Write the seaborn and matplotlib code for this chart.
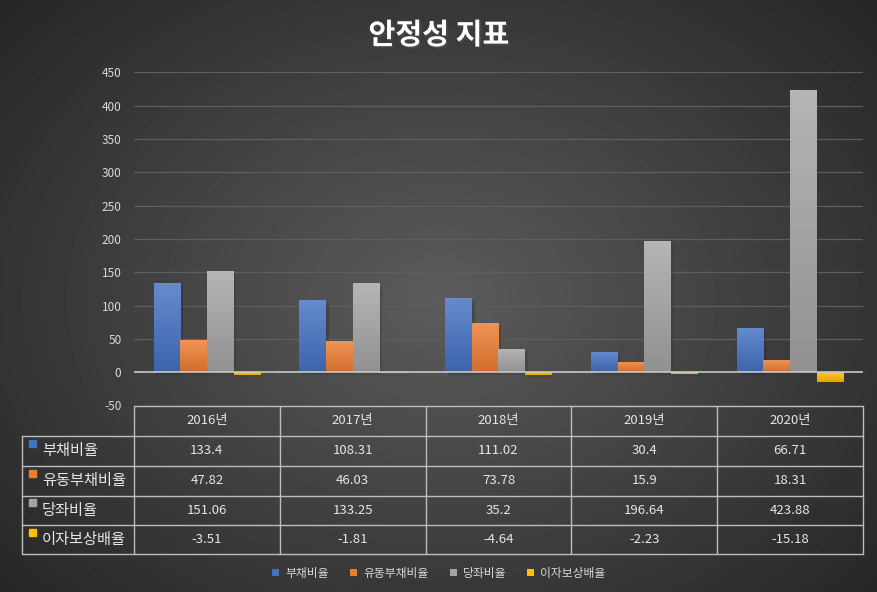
import numpy as np
import pandas as pd
import matplotlib
matplotlib.use("Agg")
import matplotlib.pyplot as plt
import matplotlib.colors as mcolors
import matplotlib.patheffects as pe
from matplotlib.patches import Patch
import seaborn as sns

# -----------------------------------
# Data
# -----------------------------------
years = ["2016년", "2017년", "2018년", "2019년", "2020년"]
series = ["부채비율", "유동부채비율", "당좌비율", "이자보상배율"]
debt_ratio = [133.4, 108.31, 111.02, 30.4, 66.71]
current_debt_ratio = [47.82, 46.03, 73.78, 15.9, 18.31]
quick_ratio = [151.06, 133.25, 35.2, 196.64, 423.88]
interest_cover = [-3.51, -1.81, -4.64, -2.23, -15.18]
y_ticks = [-50, 0, 50, 100, 150, 200, 250, 300, 350, 400, 450]

colors = ["#4472C4", "#ED7D31", "#A5A5A5", "#FFC000"]
values = [debt_ratio, current_debt_ratio, quick_ratio, interest_cover]

df = pd.DataFrame({
    "year": years * 4,
    "series": [s for s in series for _ in years],
    "value": debt_ratio + current_debt_ratio + quick_ratio + interest_cover,
})

# -----------------------------------
# Figure + background
# -----------------------------------
sns.set_style("white")
plt.rcParams["font.family"] = ["Noto Sans CJK KR", "DejaVu Sans"]

W, H = 878, 592
fig = plt.figure(figsize=(W / 100, H / 100), dpi=100)

bg = fig.add_axes([0, 0, 1, 1], zorder=-10)
yy, xx = np.mgrid[0:H, 0:W]
r = np.sqrt(((xx - 440) / 560) ** 2 + ((yy - 300) / 420) ** 2)
shade = np.clip(0.36 - 0.2 * r, 0.14, 0.36)
bg.imshow(shade, cmap="gray", vmin=0, vmax=1, extent=[0, W, H, 0], aspect="auto")
bg.set_xlim(0, W)
bg.set_ylim(H, 0)
bg.axis("off")

# -----------------------------------
# Bars
# -----------------------------------
ax = fig.add_axes([134 / W, 1 - 405.5 / H, 729 / W, 333.3 / H])
ax.patch.set_alpha(0)
sns.barplot(data=df, x="year", y="value", hue="series", hue_order=series,
            palette=colors, width=0.73, gap=0, legend=False, ax=ax,
            saturation=1, linewidth=0)

ax.set_yticks(y_ticks)
ax.set_yticklabels([str(t) for t in y_ticks], color="#d9d9d9", fontsize=8.5)
ax.tick_params(axis="y", length=0, pad=9)
ax.set_xticks([])
ax.set_xlabel("")
ax.set_ylabel("")
for s in ax.spines.values():
    s.set_visible(False)
for t in y_ticks:
    if t != 0:
        ax.axhline(t, color="#5e5e5e", lw=0.9, zorder=0)
ax.axhline(0, color="#c8c8c8", lw=1.2, zorder=4)

# gradient fill per bar (lighter top, darker bottom)
for cont, c in zip(ax.containers, colors):
    base = np.array(mcolors.to_rgb(c))
    top = np.clip(base + (1 - base) * 0.18, 0, 1)
    bot = np.clip(base * 0.88, 0, 1)
    grad = np.linspace(0, 1, 64)[:, None, None]
    img = top * (1 - grad) + bot * grad
    for bar in cont:
        x0, y0 = bar.get_x(), bar.get_y()
        w, h = bar.get_width(), bar.get_height()
        bar.set_path_effects([pe.SimplePatchShadow(offset=(2, -2), alpha=0.28),
                              pe.Normal()])
        lo, hi = min(y0, y0 + h), max(y0, y0 + h)
        im = ax.imshow(img, extent=[x0, x0 + w, lo, hi], origin="upper",
                       aspect="auto", zorder=3)
        im.set_clip_path(bar)
ax.set_xlim(-0.5, len(years) - 0.5)
ax.set_ylim(-50, 450)

# -----------------------------------
# Title
# -----------------------------------
fig.text(0.5, 1 - 35 / H, "안정성 지표", ha="center", va="center", fontsize=21,
         fontweight="bold", color="white",
         path_effects=[pe.withSimplePatchShadow(offset=(1.5, -1.5), alpha=0.6)])

# -----------------------------------
# Data table (drawn in pixel space)
# -----------------------------------
tb = fig.add_axes([0, 0, 1, 1], zorder=5)
tb.set_xlim(0, W)
tb.set_ylim(H, 0)
tb.axis("off")

fig.canvas.draw()
col_x = [ax.transData.transform((i - 0.5, 0))[0] for i in range(len(years) + 1)]
left_x = 22
row_y = [406, 435.5, 465.5, 495.5, 525, 554]
line_c = "#bdbdbd"

# horizontal lines
tb.plot([col_x[0], col_x[-1]], [row_y[0]] * 2, color=line_c, lw=1)
for yv in row_y[1:]:
    tb.plot([left_x, col_x[-1]], [yv] * 2, color=line_c, lw=1)
# vertical lines
for xv in col_x:
    tb.plot([xv, xv], [row_y[0], row_y[-1]], color=line_c, lw=1)
tb.plot([left_x, left_x], [row_y[1], row_y[-1]], color=line_c, lw=1)

txt_c = "#e6e6e6"
for i, yr in enumerate(years):
    cx = (col_x[i] + col_x[i + 1]) / 2
    tb.text(cx, (row_y[0] + row_y[1]) / 2, yr, ha="center", va="center",
            fontsize=9.5, color=txt_c)
for j, (name, vals, c) in enumerate(zip(series, values, colors)):
    cy = (row_y[j + 1] + row_y[j + 2]) / 2
    tb.add_patch(plt.Rectangle((29, cy - 11), 7, 7, color=c))
    tb.text(42, cy, name, ha="left", va="center", fontsize=11, color=txt_c)
    for i, v in enumerate(vals):
        cx = (col_x[i] + col_x[i + 1]) / 2
        tb.text(cx, cy, f"{v:g}", ha="center", va="center", fontsize=9.5,
                color=txt_c)

# -----------------------------------
# Legend
# -----------------------------------
handles = [Patch(facecolor=c, edgecolor="none", label=s) for s, c in zip(series, colors)]
fig.legend(handles=handles, loc="center", bbox_to_anchor=(0.5, 1 - 573 / H),
           ncol=4, frameon=False, fontsize=8.5, labelcolor="#d9d9d9",
           handlelength=0.6, handleheight=0.6, handletextpad=0.5,
           columnspacing=1.8)

fig.savefig("out.png", dpi=100)
